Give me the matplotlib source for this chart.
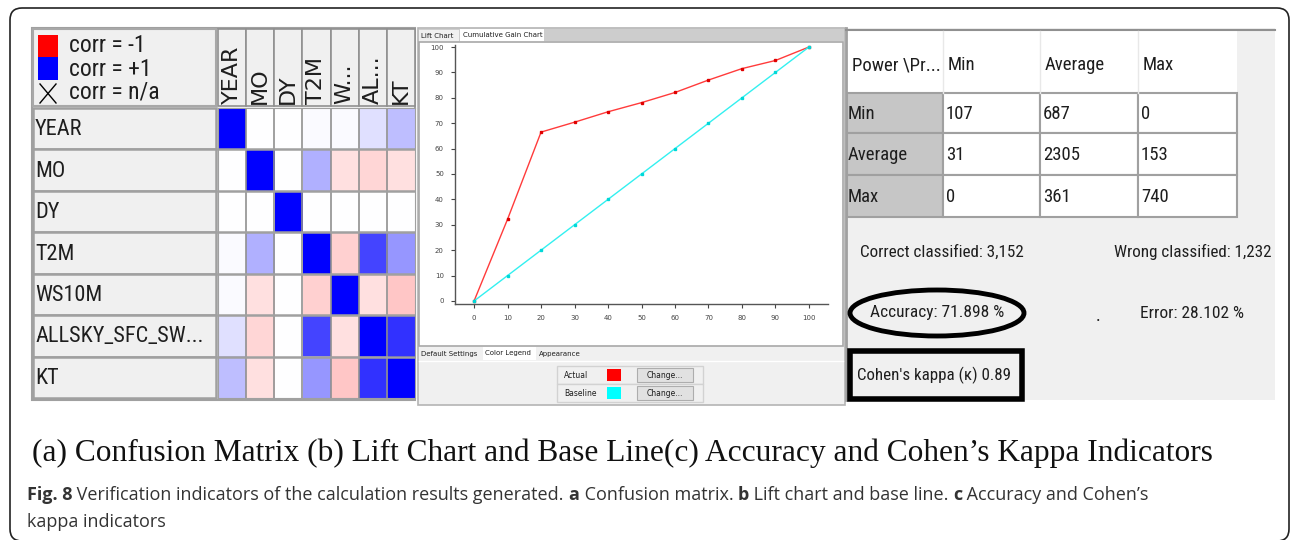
import matplotlib
matplotlib.use('Agg')
import matplotlib.pyplot as plt
import numpy as np
from matplotlib import font_manager
from matplotlib.colors import LinearSegmentedColormap
from matplotlib.patches import Rectangle, FancyBboxPatch, Ellipse


# ---- data -------------------------------------------------------------
variables = ["YEAR", "MO", "DY", "T2M", "WS10M", "ALLSKY_SFC_SW...", "KT"]
col_labels = ["YEAR", "MO", "DY", "T2M", "W...", "AL...", "KT"]
corr = [
    [1.00, 0.00, 0.00, 0.02, 0.02, 0.12, 0.25],
    [0.00, 1.00, 0.00, 0.31, -0.12, -0.16, -0.12],
    [0.00, 0.00, 1.00, 0.00, 0.00, 0.00, 0.00],
    [0.02, 0.31, 0.00, 1.00, -0.18, 0.73, 0.41],
    [0.02, -0.12, 0.00, -0.18, 1.00, -0.12, -0.22],
    [0.12, -0.16, 0.00, 0.73, -0.12, 1.00, 0.80],
    [0.25, -0.12, 0.00, 0.41, -0.22, 0.80, 1.00],
]

pct = [0, 10, 20, 30, 40, 50, 60, 70, 80, 90, 100]
actual = [0, 32.2, 66.5, 70.4, 74.5, 78.1, 82.1, 87.0, 91.5, 94.7, 100]
baseline = [0, 10, 20, 30, 40, 50, 60, 70, 80, 90, 100]

classes = ["Min", "Average", "Max"]
conf = [
    [107, 687, 0],
    [31, 2305, 153],
    [0, 361, 740],
]
correct = "3,152"
wrong = "1,232"
accuracy = "71.898"
error = "28.102"
kappa = "0.89"

# ---- layout helpers (pixel coordinates) --------------------------------
W, H = 1292, 540
avail = {f.name for f in font_manager.fontManager.ttflist}


def pick(*names):
    for n in names:
        if n in avail:
            return n
    return 'DejaVu Sans'


NARROW = [pick('Liberation Sans Narrow', 'Roboto Condensed', 'Roboto'), 'DejaVu Sans']
SERIF = pick('Liberation Serif', 'DejaVu Serif')
CAPF = pick('Open Sans', 'Noto Sans')
TXT = '#1e1e1e'

fig = plt.figure(figsize=(W / 100, H / 100), dpi=100)


def box(x0, y0, x1, y1):
    return [x0 / W, 1 - y1 / H, (x1 - x0) / W, (y1 - y0) / H]


cv = fig.add_axes([0, 0, 1, 1])
cv.set_xlim(0, W); cv.set_ylim(H, 0); cv.axis('off')


def rect(x0, y0, x1, y1, fc='none', ec='none', lw=1.0, z=1):
    cv.add_patch(Rectangle((x0, y0), x1 - x0, y1 - y0, fc=fc, ec=ec, lw=lw, zorder=z))


def txt(x, y, s, size, family=NARROW, **kw):
    kw.setdefault('va', 'center')
    kw.setdefault('color', TXT)
    cv.text(x, y, s, fontsize=size, family=family, **kw)


# outer frame
cv.add_patch(FancyBboxPatch((10, 8), 1279, 533, boxstyle='round,pad=0,rounding_size=12',
                            fc='white', ec='#222222', lw=1.2, zorder=0))

# ---- (a) correlation matrix --------------------------------------------
ax0, ay0, ax1, ay1 = 218, 108, 415, 398
rh = (ay1 - ay0) / len(variables)
cw = (ax1 - ax0) / len(col_labels)
rect(32, 28, 415, 400, fc='#f0f0f0', ec='#a0a0a0', lw=1.5)
rect(33, 29, 216, 106, fc='#f0f0f0', ec='#a8a8a8', lw=1.5)
for j, lab in enumerate(col_labels):
    x0 = ax0 + j * cw
    rect(x0, 29, x0 + cw, 106, fc='#f0f0f0', ec='#909090', lw=1.2)
    txt(x0 + cw / 2, 104, lab, 16, family='DejaVu Sans', rotation=90,
        ha='center', va='bottom')
for i, lab in enumerate(variables):
    y0 = ay0 + i * rh
    rect(33, y0, 216, y0 + rh, fc='#f0f0f0', ec='#a0a0a0', lw=1.8)
    txt(35, y0 + rh / 2 + 1, lab, 16)

rect(38, 35, 58, 57, fc='#ff0000')
rect(38, 57, 58, 80, fc='#0000ff')
cv.plot([40, 56], [84, 103], color='black', lw=1)
cv.plot([56, 40], [84, 103], color='black', lw=1)
txt(69, 46, "corr = -1", 17)
txt(69, 69, "corr = +1", 17)
txt(69, 92, "corr = n/a", 17)

rwb = LinearSegmentedColormap.from_list('rwb', ['#ff0000', '#ffffff', '#0000ff'])
hx = fig.add_axes(box(ax0, ay0, ax1, ay1))
hx.imshow(np.array(corr), cmap=rwb, vmin=-1, vmax=1, aspect='auto', interpolation='nearest')
for k in range(1, len(col_labels)):
    hx.axvline(k - 0.5, color='#909090', lw=1.2)
for k in range(1, len(variables)):
    hx.axhline(k - 0.5, color='#a0a0a0', lw=1.8)
hx.set_xticks([]); hx.set_yticks([])
for s in hx.spines.values():
    s.set_color('#a0a0a0')

# ---- (b) cumulative gain chart -----------------------------------------
rect(418, 28, 845, 405, fc='#f0f0f0', ec='#b4b4b4', lw=1.2)
rect(419, 29, 844, 41, fc='#cdcdcd')
rect(419, 30, 459, 42, fc='#f0f0f0')
rect(460, 29, 544, 42, fc='white')
txt(421, 36, "Lift Chart", 5, family='DejaVu Sans')
txt(463, 35, "Cumulative Gain Chart", 5, family='DejaVu Sans')
rect(419, 42, 843, 346, fc='white', ec='#a8a8a8', lw=1.2)
rect(483, 347, 536, 360, fc='white')
txt(421, 354, "Default Settings", 5, family='DejaVu Sans')
txt(485, 353, "Color Legend", 5, family='DejaVu Sans')
txt(539, 354, "Appearance", 5, family='DejaVu Sans')
cv.plot([419, 843], [361, 361], color='#ffffff', lw=1)
for k, (name, col) in enumerate([("Actual", '#ff0000'), ("Baseline", '#00ffff')]):
    y0 = 366 + k * 18
    rect(557, y0, 703, y0 + 18, fc='#f0f0f0', ec='#d2d2d2', lw=1)
    txt(564, y0 + 9, name, 5.5, family='DejaVu Sans')
    rect(607, y0 + 3, 621, y0 + 15, fc=col)
    rect(637, y0 + 2, 693, y0 + 16, fc='#e1e1e1', ec='#adadad', lw=0.8)
    txt(665, y0 + 9, "Change...", 5.5, family='DejaVu Sans', ha='center')

lx = fig.add_axes(box(455, 45, 828, 304))
lx.plot(pct, actual, color='#ff3b3b', lw=1.0, marker='s', ms=2.0, mec='#e00000', mfc='#e00000')
lx.plot(pct, baseline, color='#33f0f0', lw=1.0, marker='s', ms=2.0, mec='#00d8d8', mfc='#00d8d8')
lx.set_xlim(-5.7, 105.7)
lx.set_ylim(-1.2, 100.8)
lx.set_xticks(pct)
lx.set_yticks(baseline)
lx.tick_params(labelsize=5, colors='#444444', length=3, width=0.8, pad=5)
for side in ('top', 'right'):
    lx.spines[side].set_visible(False)
for side in ('left', 'bottom'):
    lx.spines[side].set_color('#555555')
    lx.spines[side].set_linewidth(1.0)
lx.set_facecolor('white')

# ---- (c) confusion table and indicators --------------------------------
rect(845, 28, 1275, 400, fc='#f0f0f0')
cv.plot([846, 846], [28, 400], color='#a0a0a0', lw=2)
cv.plot([846, 1275], [29.5, 29.5], color='#909090', lw=1.5)
col_x = [847, 943, 1040, 1138, 1237]
row_y = [93, 133, 175, 217]
rect(847, 31, 1237, 93, fc='white')
for x in col_x[1:-1]:
    cv.plot([x, x], [31, 93], color='#e8e8e8', lw=1)
headers = ["Power \\Pr..."] + classes
for j, h in enumerate(headers):
    txt(col_x[j] + 5, 65, h, 13.5)
for i, lab in enumerate(classes):
    y0, y1 = row_y[i], row_y[i + 1]
    rect(847, y0, 943, y1, fc='#c6c6c6', ec='#a0a0a0', lw=1.5)
    txt(848, (y0 + y1) / 2 + 1, lab, 13.5)
    for j, v in enumerate(conf[i]):
        rect(col_x[j + 1], y0, col_x[j + 2], y1, fc='white', ec='#a0a0a0', lw=1.5)
        txt(col_x[j + 1] + 3, (y0 + y1) / 2 + 1, str(v), 13.5)

txt(860, 252, f"Correct classified: {correct}", 12.3)
txt(1272, 252, f"Wrong classified: {wrong}", 12.3, ha='right')
cv.add_patch(Ellipse((937, 313), 174, 46, fc='none', ec='black', lw=3.5, zorder=3))
txt(937, 313, f"Accuracy: {accuracy} %", 12.5, ha='center')
txt(1098, 316, ".", 13, ha='center')
txt(1140, 313, f"Error: {error} %", 12.5)
rect(850, 351, 1022, 399, fc='none', ec='black', lw=4, z=3)
txt(857, 375, f"Cohen's kappa (\u03ba) {kappa}", 12.2)

# ---- captions ----------------------------------------------------------
txt(32, 453, "(a) Confusion Matrix (b) Lift Chart and Base Line(c) Accuracy and Cohen\u2019s Kappa Indicators",
    22.6, family=SERIF, color='#111111')

pieces = [("Fig. 8", 'bold'),
          (" Verification indicators of the calculation results generated. ", 'normal'),
          ("a", 'bold'), (" Confusion matrix. ", 'normal'),
          ("b", 'bold'), (" Lift chart and base line. ", 'normal'),
          ("c", 'bold'), (" Accuracy and Cohen\u2019s", 'normal')]
prev = None
for s, wt in pieces:
    if prev is None:
        prev = cv.text(27, 500, s, fontsize=13, family=CAPF, weight=wt,
                       color='#333333', va='baseline')
    else:
        prev = cv.annotate(s, xy=(1, 0), xycoords=prev, va='bottom', ha='left',
                           fontsize=13, family=CAPF, weight=wt, color='#333333')
cv.text(27, 527, "kappa indicators", fontsize=13, family=CAPF, color='#333333', va='baseline')

fig.savefig('out.png', dpi=100)
